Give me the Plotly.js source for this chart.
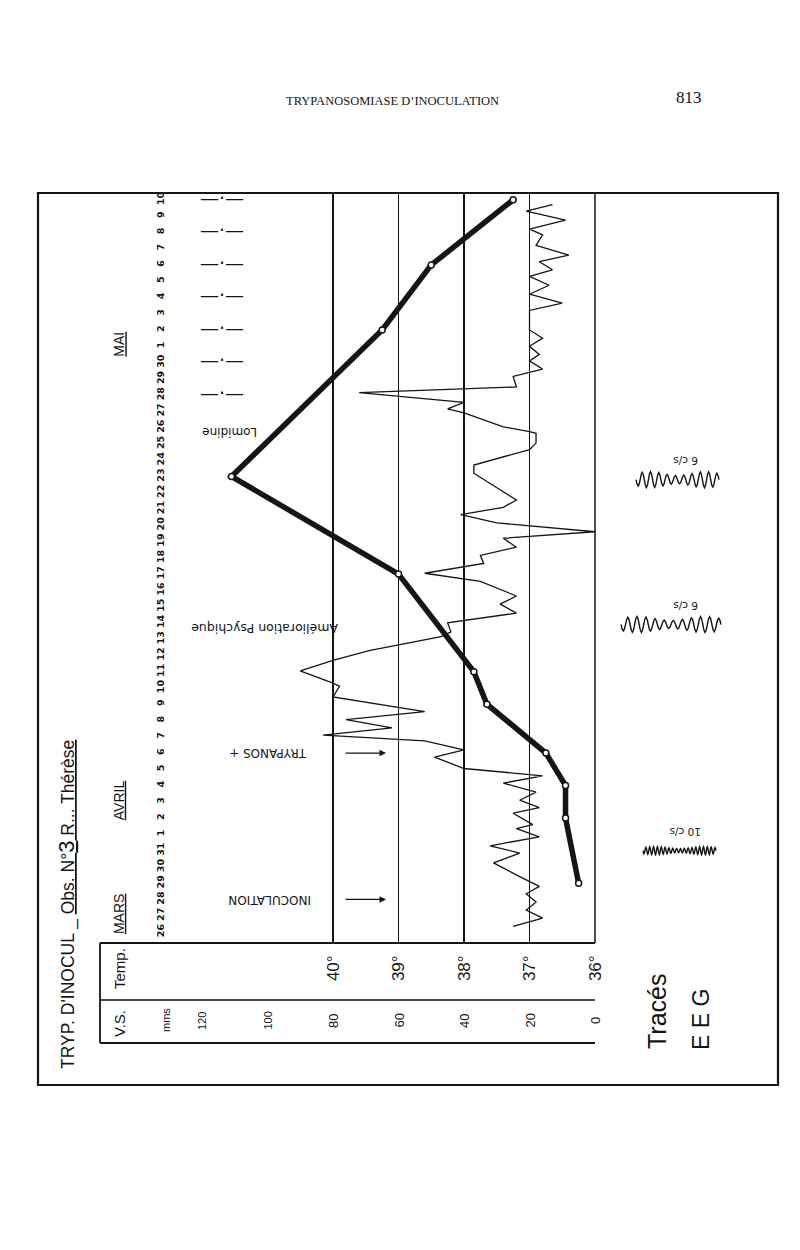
<!DOCTYPE html>
<html><head><meta charset="utf-8">
<script src="https://cdn.plot.ly/plotly-3.0.1.min.js"></script>
<style>body{margin:0;background:#fff}</style>
</head><body><div id="chart" style="width:800px;height:1250px"></div>
<script>
// ---- DATA (day index 0 = 26 March, 45 = 10 May) ----
const dayLabels = ['26','27','28','29','30','31',
  '1','2','3','4','5','6','7','8','9','10','11','12','13','14','15','16','17','18','19','20',
  '21','22','23','24','25','26','27','28','29','30',
  '1','2','3','4','5','6','7','8','9','10'];
const monthNames = ['MARS','AVRIL','MAI'];
const tempTicks = [36,37,38,39,40];
const tempTickText = ['36°','37°','38°','39°','40°'];
const vsTicks = [0,20,40,60,80,100,120];

// Vitesse de sédimentation (mm)
const vsDays   = [3, 7, 9, 11, 14, 16, 22, 28, 37, 41, 45];
const vsValues = [5, 9, 9, 15, 33, 37, 60, 111, 65, 50, 25];

// Température (°C), morning / evening readings
const tempDays = [0.35,0.85,1.35,1.85,2.35,2.8,3.4,4.25,4.85,5.3,5.85,6.35,6.6,7.3,7.65,8.1,8.6,9.15,9.6,
  10.05,10.75,11.2,11.75,12.1,12.55,13.05,13.55,14.45,15.1,15.3,16.05,16.7,17.3,18.15,18.45,19.0,19.6,
  20.15,20.65,21.55,22.05,22.65,23.15,23.65,24.2,24.6,25.15,25.65,26.1,26.55,28.2,28.7,29.65,30.05,
  30.65,30.75,31.05,31.9,32.15,32.55,33.15,33.5,34.15,34.6,35.1,35.5,36.0,36.5,37.0,38.2,38.65,39.2,
  39.75,40.3,40.7,41.2,41.6,42.2,42.85,43.2,43.75,44.3,44.7];
const tempValues = [37.25,36.8,37.05,36.9,37.05,36.85,37.15,37.55,37.15,37.6,36.85,37.2,36.95,37.25,36.85,37.15,36.9,37.4,36.8,
  38.0,38.45,38.0,38.6,40.15,39.1,39.8,38.6,40.0,39.9,40.0,40.5,40.0,39.45,38.35,38.2,38.25,37.2,
  37.45,37.2,37.75,38.6,37.7,37.75,37.2,37.4,36.0,37.5,38.05,37.4,37.2,37.85,37.85,37.0,36.9,
  36.9,37.0,37.4,38.0,38.25,38.0,39.6,37.2,37.25,36.8,37.0,36.85,37.0,36.8,37.0,37.0,36.5,37.0,
  36.7,37.0,36.65,36.85,36.4,36.9,36.8,37.0,36.45,37.05,36.65];

const lomidineDays = [33,35,37,39,41,43,45];
const eventLabels = ['INOCULATION','TRYPANOS +','Amélioration Psychique','Lomidine'];
const eventDays = [2, 11, 18.7, 30.7];
const eegLabels = ['10 c/s','6 c/s','6 c/s'];
const eegDays = [5, 18.9, 27.8];
const eegCycles = [19, 11, 10];

// ---- GEOMETRY ----
const L=100, R=595, T=193, B=943;
const degPx = 65.5, dayPx = 16.27, day0Px = 932;
const px = x => (x-L)/(R-L);
const py = y => (B-y)/(B-T);
const tempMax = 36 + (R-L)/degPx;
const vsMax = (R-L)/degPx*20;
const yRange = [(day0Px-B)/dayPx, (day0Px-T)/dayPx];
const dayToPx = d => day0Px - d*dayPx;
const tempAtPx = x => 36 + (R-x)/degPx;

const ink = '#151515';
const hand = 'Liberation Sans, DejaVu Sans, sans-serif';

const traces = [
  {x: tempValues, y: tempDays, xaxis:'x', yaxis:'y', mode:'lines',
   line:{color:ink, width:1.3}, hoverinfo:'skip'},
  {x: vsValues, y: vsDays, xaxis:'x2', yaxis:'y', mode:'lines+markers',
   line:{color:ink, width:5.5},
   marker:{size:6, color:'#fff', line:{color:ink, width:1.5}}, hoverinfo:'skip'},
  {x: lomidineDays.map(()=>tempAtPx(222)), y: lomidineDays, xaxis:'x', yaxis:'y', mode:'text',
   text: lomidineDays.map(()=>'—·—'), textfont:{family:'DejaVu Sans', size:19, color:ink}, hoverinfo:'skip'}
];

const ann = [];
function A(o){ ann.push(Object.assign({showarrow:false, xanchor:'center', yanchor:'middle',
  font:{family:hand, size:12, color:ink}}, o)); }

// page header
A({text:'TRYPANOSOMIASE D’INOCULATION', xref:'paper', yref:'paper', x:px(392), y:py(101),
   font:{family:'Liberation Serif', size:12.5, color:ink}});
A({text:'813', xref:'paper', yref:'paper', x:px(689), y:py(97),
   font:{family:'Liberation Serif', size:17, color:ink}});
// title
A({text:"TRYP. D'INOCUL _ <u>Obs. N°<span style='font-size:22px'>3</span> R... Thérèse</u>",
   xref:'paper', yref:'paper', x:px(66), y:py(905), textangle:-90, font:{family:hand, size:17.5, color:ink}});
// months
const monthDays = [1.1, 8.1, 36.1];
monthNames.forEach((m,i)=>A({text:'<u>'+m+'</u>', xref:'paper', yref:'y', x:px(119), y:monthDays[i],
   textangle:-90, font:{family:hand, size:14, color:ink}}));
// header cells
A({text:'V.S.', xref:'paper', yref:'paper', x:px(119), y:py(1024), textangle:-90, font:{family:hand, size:15, color:ink}});
A({text:'Temp.', xref:'paper', yref:'paper', x:px(119), y:py(969), textangle:-90, font:{family:hand, size:15, color:ink}});
A({text:'mms', xref:'paper', yref:'paper', x:px(166), y:py(1020), textangle:-90, font:{family:hand, size:11, color:ink}});
vsTicks.forEach(v=>A({text:String(v), xref:'x2', yref:'paper', x:v, y:py(1021), textangle:-90,
   font:{family:hand, size:v>=100?11:13, color:ink}}));
// EEG legend
A({text:'Tracés', xref:'paper', yref:'paper', x:px(657), y:py(1012), textangle:-90, font:{family:hand, size:25, color:ink}});
A({text:'E E G', xref:'paper', yref:'paper', x:px(701), y:py(1020), textangle:-90, font:{family:hand, size:23, color:ink}});
// event texts (upside down)
const eventX = [270, 268, 265, 230];
const eventSize = [12, 12, 12.5, 12];
eventLabels.forEach((t,i)=>A({text:t, xref:'paper', yref:'y', x:px(eventX[i]), y:eventDays[i],
   textangle:180, font:{family:'DejaVu Sans', size:eventSize[i], color:ink}}));
// arrows
[eventDays[0], eventDays[1]].forEach(d=>A({text:'', xref:'paper', yref:'y', x:px(386), y:d,
   showarrow:true, ax:-42, ay:0, arrowhead:2, arrowsize:1, arrowwidth:1.3, arrowcolor:ink}));
// EEG labels
eegLabels.forEach((t,i)=>A({text:t, xref:'paper', yref:'y', x:px(686), y:eegDays[i]+1.15,
   textangle:180, font:{family:'DejaVu Sans', size:10.5, color:ink}}));

// shapes
const shapes = [];
function line(x0,y0,x1,y1,w){ shapes.push({type:'line', xref:'paper', yref:'paper',
  x0:px(x0), y0:py(y0), x1:px(x1), y1:py(y1), line:{color:ink, width:w||1.5}}); }
shapes.push({type:'rect', xref:'paper', yref:'paper', x0:px(38), x1:px(778), y0:py(1085), y1:py(193),
  line:{color:ink, width:2.2}});
line(L,B,R,B,1.8); line(L,1000,R,1000,1.5); line(L,1043,R,1043,1.8); line(L,B,L,1043,1.8);
line(R,T,R,B,1.5);
// EEG traces
const eegX = [[643,716],[621,721],[636,719]];
const eegAmp = [4, 8, 8];
eegDays.forEach((d,i)=>{
  const yc = dayToPx(d);
  const [x0,x1] = eegX[i];
  const n = eegCycles[i]*8;
  let p = '';
  for(let k=0;k<=n;k++){
    const x = x0 + (x1-x0)*k/n;
    const a = eegAmp[i]*(0.75+0.25*Math.sin(k/n*Math.PI*3));
    const y = yc + a*Math.sin(2*Math.PI*eegCycles[i]*k/n);
    p += (k?' L':'M') + px(x).toFixed(5)+','+py(y).toFixed(5);
  }
  shapes.push({type:'path', xref:'paper', yref:'paper', path:p, line:{color:ink, width:1.4}});
});

const layout = {
  width:800, height:1250, margin:{l:L, r:800-R, t:T, b:1250-B},
  paper_bgcolor:'#fff', plot_bgcolor:'rgba(0,0,0,0)', showlegend:false,
  xaxis:{range:[tempMax,36], tickvals:tempTicks, ticktext:tempTickText, tickangle:-90,
    showgrid:true, gridcolor:ink, gridwidth:1.1, zeroline:false, showline:false, ticks:'',
    ticklabelstandoff:8, tickfont:{family:hand, size:17, color:ink}, fixedrange:true},
  xaxis2:{overlaying:'x', range:[vsMax,0], visible:false, fixedrange:true},
  yaxis:{range:yRange, tickvals:dayLabels.map((_,i)=>i), ticktext:dayLabels, tickangle:-90,
    anchor:'free', position:px(166), showgrid:false, zeroline:false, showline:false, ticks:'',
    tickfont:{family:'DejaVu Sans', size:9.5, color:ink, weight:'bold'}, fixedrange:true},
  annotations: ann, shapes: shapes
};
Plotly.newPlot('chart', traces, layout, {displayModeBar:false, staticPlot:true});
</script></body></html>
